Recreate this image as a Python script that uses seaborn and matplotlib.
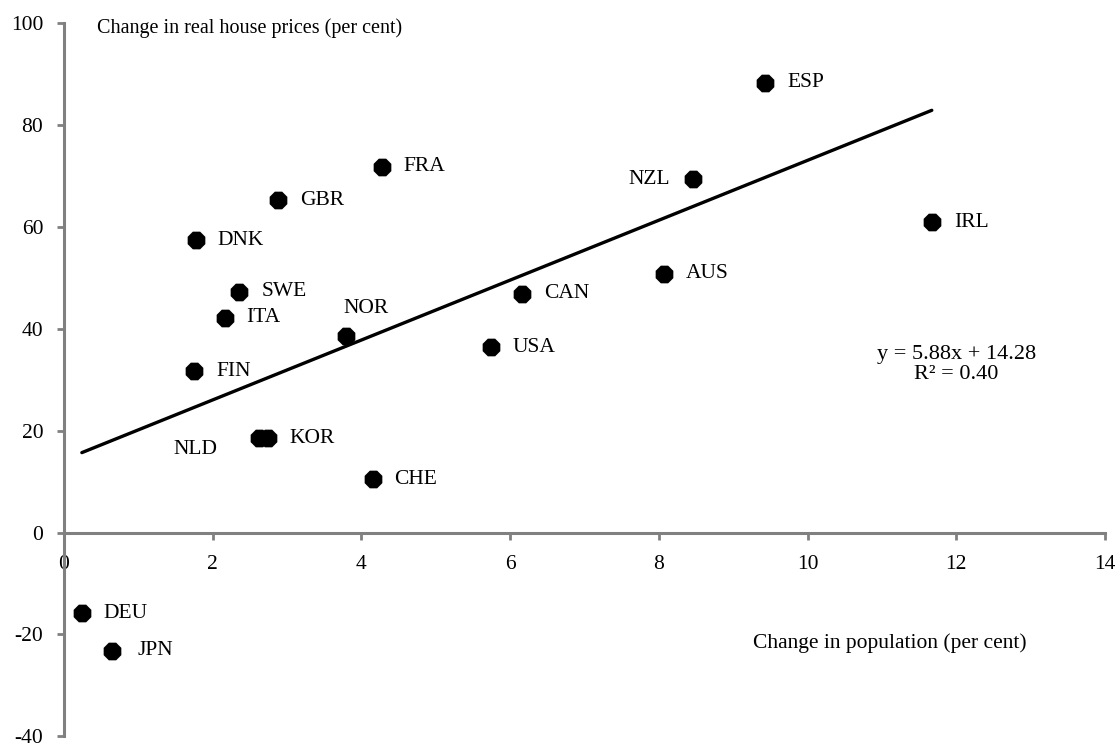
import matplotlib
matplotlib.use("Agg")
import matplotlib.pyplot as plt
import seaborn as sns
import pandas as pd
import numpy as np

# ---- data ----
countries = ["ESP", "NZL", "IRL", "FRA", "GBR", "DNK", "SWE", "ITA", "NOR", "FIN",
             "NLD", "KOR", "CHE", "USA", "CAN", "AUS", "DEU", "JPN"]
pop_change = [9.43, 8.46, 11.67, 4.27, 2.88, 1.77, 2.36, 2.16, 3.79, 1.75,
              2.62, 2.74, 4.15, 5.74, 6.16, 8.07, 0.24, 0.65]
price_change = [88.3, 69.4, 60.9, 71.8, 65.2, 57.4, 47.3, 42.2, 38.5, 31.7,
                18.5, 18.5, 10.5, 36.4, 46.9, 50.8, -15.8, -23.2]
slope, intercept, r2 = 5.88, 14.28, 0.40
x_ticks = [0, 2, 4, 6, 8, 10, 12, 14]
y_ticks = [-40, -20, 0, 20, 40, 60, 80, 100]

df = pd.DataFrame({"country": countries, "pop": pop_change, "price": price_change})

# label offsets in pixels (style)
default_off = (22, 0, "left", "center")
special_off = {
    "NZL": (-23, 0, "right", "center"),
    "NOR": (-2, 28, "left", "center"),
    "NLD": (-41, -11, "right", "center"),
    "JPN": (25, 0, "left", "center"),
}

sns.set_theme(style="white")
plt.rcParams["font.family"] = ["Liberation Serif", "DejaVu Serif"]
plt.rcParams["axes.unicode_minus"] = False

fig = plt.figure(figsize=(11.17, 7.49), dpi=100)
ax = fig.add_axes([0.0573, 0.017, 0.932, 0.952])

trend_x = np.array([min(pop_change), max(pop_change)])
trend_df = pd.DataFrame({"x": trend_x, "y": slope * trend_x + intercept})
sns.lineplot(data=trend_df, x="x", y="y", ax=ax, color="black", linewidth=2.4, zorder=2)

sns.scatterplot(data=df, x="pop", y="price", ax=ax, color="black", marker="8",
                s=190, edgecolor="black", linewidth=0, zorder=3)

for c, xv, yv in zip(countries, pop_change, price_change):
    dx, dy, ha, va = special_off.get(c, default_off)
    ax.annotate(c, (xv, yv), xytext=(dx, dy), textcoords="offset pixels",
                ha=ha, va=va, fontsize=15.5, color="black")

ax.set_xlim(0, 14)
ax.set_ylim(-40, 100)
ax.set_xticks(x_ticks)
ax.set_yticks(y_ticks)
ax.set_xlabel("")
ax.set_ylabel("")

for s in ["top", "right"]:
    ax.spines[s].set_visible(False)
ax.spines["bottom"].set_position(("data", 0))
for s in ["left", "bottom"]:
    ax.spines[s].set_color("#808080")
    ax.spines[s].set_linewidth(2.2)

ax.tick_params(axis="x", direction="out", length=5, width=2, color="#808080",
               pad=11, labelsize=15.5, labelcolor="black", bottom=True)
ax.tick_params(axis="y", direction="out", length=5, width=2, color="#808080",
               pad=10, labelsize=15.5, labelcolor="black", left=True)

ax.text(0.45, 99, "Change in real house prices (per cent)", fontsize=14.5,
        ha="left", va="center", color="black")
ax.text(11.1, -21.8, "Change in population (per cent)", fontsize=15.5,
        ha="center", va="center", color="black")
ax.text(12.0, 33.0, f"y = {slope:.2f}x + {intercept:.2f}\nR² = {r2:.2f}",
        fontsize=16, ha="center", va="center", color="black", linespacing=1.05)

fig.savefig("out.png", dpi=100)
